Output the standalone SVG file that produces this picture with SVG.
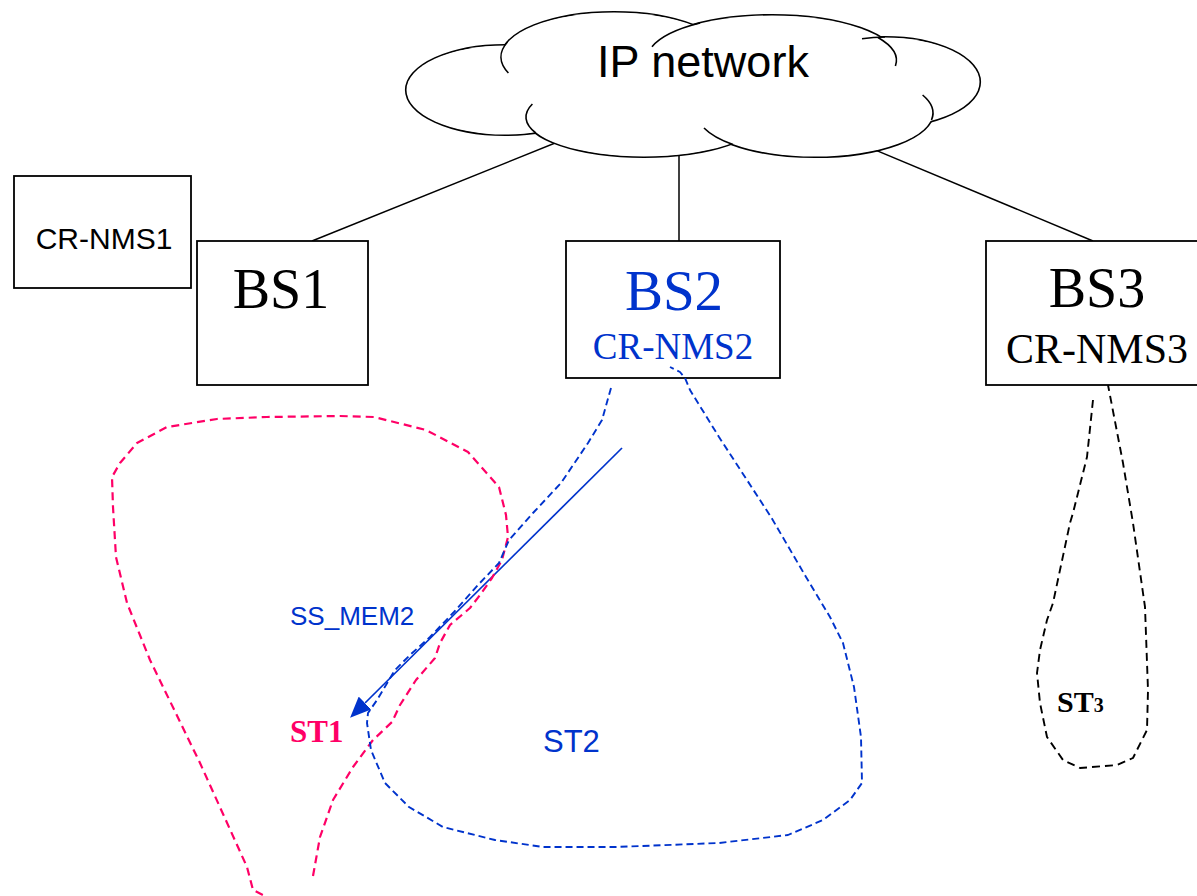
<svg xmlns="http://www.w3.org/2000/svg" width="1197" height="896" viewBox="0 0 1197 896">
<style>
.box{fill:#fff;stroke:#000;stroke-width:1.8}
.link{stroke:#000;stroke-width:1.5;fill:none}
.sans{font-family:"Liberation Sans",Arial,sans-serif}
.serif{font-family:"Liberation Serif","Times New Roman",serif}
.blue{fill:#0033cc}
.pink{fill:#ff0066}
.st1{fill:none;stroke:#ff0066;stroke-width:2.2;stroke-dasharray:8 5;stroke-linejoin:round}
.st2{fill:none;stroke:#0033cc;stroke-width:1.9;stroke-dasharray:7 4;stroke-linejoin:round}
.st3{fill:none;stroke:#000;stroke-width:1.9;stroke-dasharray:8 5;stroke-linejoin:round}
</style>
<defs>
<marker id="arr" viewBox="0 0 21 18" refX="0" refY="9" markerWidth="21" markerHeight="18" markerUnits="userSpaceOnUse" orient="auto">
<path d="M0,0 L21,9 L0,18 Z" fill="#0033cc"/>
</marker>
</defs>
<rect width="1197" height="896" fill="#fff"/>

<g id="connectors">
<line class="link" x1="575" y1="135" x2="312" y2="241"/>
<line class="link" x1="679" y1="130" x2="679" y2="241"/>
<line class="link" x1="860" y1="143.6" x2="1093" y2="241"/>
<line x1="622" y1="448" x2="365" y2="703" stroke="#0033cc" stroke-width="1.7" marker-end="url(#arr)"/>
</g>

<g id="cloud">
<g fill="#fff" stroke="#000" stroke-width="2.2">
<ellipse cx="505" cy="90" rx="99" ry="45"/>
<ellipse cx="614" cy="57" rx="113" ry="45"/>
<ellipse cx="772" cy="59" rx="125" ry="44"/>
<ellipse cx="885" cy="82" rx="95" ry="45"/>
<ellipse cx="644" cy="117" rx="118" ry="40"/>
<ellipse cx="815" cy="113" rx="118" ry="44"/>
</g>
<g fill="#fff">
<ellipse cx="505" cy="90" rx="98.5" ry="44.5"/>
<ellipse cx="614" cy="57" rx="112.5" ry="44.5"/>
<ellipse cx="772" cy="59" rx="124.5" ry="43.5"/>
<ellipse cx="885" cy="82" rx="94.5" ry="44.5"/>
<ellipse cx="644" cy="117" rx="117.5" ry="39.5"/>
<ellipse cx="815" cy="113" rx="117.5" ry="43.5"/>
</g>
<g fill="none" stroke="#000" stroke-width="1.6">
<path d="M507.4,42 A113,45 0 0 0 508.4,73"/>
<path d="M652,46.7 A125,44 0 0 1 700,23"/>
<path d="M878,37.5 A125,44 0 0 1 895.4,66"/>
<path d="M862,38.7 A95,45 0 0 1 885,37"/>
<path d="M922.6,95 A118,44 0 0 1 931.5,120"/>
<path d="M532.4,104 A118,40 0 0 0 535.8,133"/>
<path d="M704,128 A118,44 0 0 0 733,144.6"/>
</g>
<text class="sans" x="703" y="77" font-size="45" text-anchor="middle">IP network</text>
</g>

<g id="crnms1">
<rect class="box" x="14" y="176" width="177" height="112"/>
<text class="sans" x="104" y="249" font-size="30" text-anchor="middle">CR-NMS1</text>
</g>

<g id="bs1">
<rect class="box" x="197" y="241" width="171" height="144"/>
<text class="serif" x="281" y="308" font-size="56" text-anchor="middle">BS1</text>
</g>

<g id="bs2">
<rect class="box" x="566" y="241" width="214" height="137"/>
<text class="serif blue" x="674" y="310" font-size="57" text-anchor="middle">BS2</text>
<text class="serif blue" x="673" y="359" font-size="37" text-anchor="middle">CR-NMS2</text>
</g>

<g id="bs3">
<rect class="box" x="986" y="241" width="220" height="144"/>
<text class="serif" x="1097" y="307" font-size="56" text-anchor="middle">BS3</text>
<text class="serif" x="1097" y="363" font-size="42" text-anchor="middle">CR-NMS3</text>
</g>

<g id="st1">
<path class="st1" d="M313,876 L320,837 L333,800 L353,767 L373,740 L392,722 L400,705 L416,680 L435,658 L440,643 L450,625 L470,608 L480,595 L492,578 L502,560 L508,537 L506,515 L499,487 L468,452 L426,430 L374,417 L340,416 L267,417 L217,419 L167,427 L137,443 L120,463 L112,477 L113,507 L116,557 L127,603 L150,660 L200,763 L247,867 L253,890 L263,895"/>
<text class="serif pink" x="290" y="742" font-size="31" font-weight="bold">ST1</text>
</g>

<g id="st2">
<path class="st2" d="M611,388 L602,420 L588,443 L561,483 L533,513 L509,540 L499,563 L478,585 L454,612 L430,637 L410,655 L395,670 L377,700 L368,713 L367,723 L371,750 L385,783 L409,807 L443,827 L495,840 L543,847 L616,847 L719,843 L788,835 L823,820 L850,800 L862,783 L861,737 L854,687 L843,643 L830,617 L806,577 L771,517 L719,437 L690,390 L685,378 L680,372 L670,367"/>
<text class="sans blue" x="290" y="625" font-size="26">SS_MEM2</text>
<text class="sans blue" x="543" y="752" font-size="31">ST2</text>
</g>

<g id="st3">
<path class="st3" d="M1093,400 L1087,457 L1073,513 L1070,523 L1053,603 L1047,620 L1040,650 L1037,673 L1040,703 L1047,737 L1063,760 L1080,768 L1117,765 L1133,758 L1147,730 L1148,690 L1145,607 L1133,523 L1123,463 L1108,385"/>
<text class="serif" x="1057" y="712" font-size="30" font-weight="bold">ST<tspan font-size="20">3</tspan></text>
</g>
</svg>
